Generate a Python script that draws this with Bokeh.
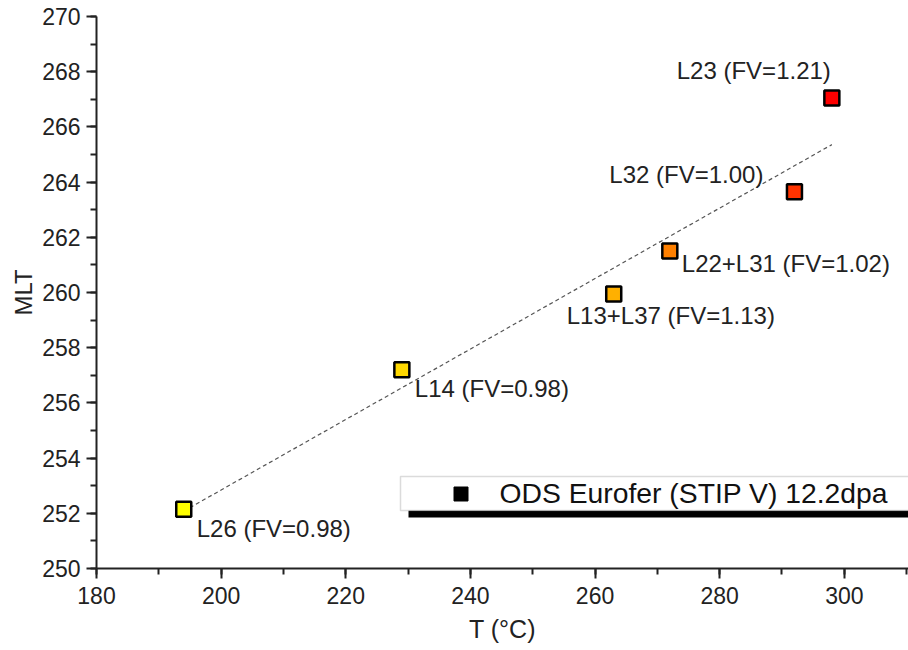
import numpy as np
from bokeh.plotting import figure
from bokeh.layouts import row
from bokeh.models import (Range1d, ColumnDataSource, LabelSet, Legend, LegendItem,
                          BoxAnnotation, SingleIntervalTicker, Spacer)
from bokeh.core.properties import value
from bokeh.embed import file_html
from bokeh.resources import INLINE

# ---- data ----
names = ["L26 (FV=0.98)", "L14 (FV=0.98)", "L13+L37 (FV=1.13)",
         "L22+L31 (FV=1.02)", "L32 (FV=1.00)", "L23 (FV=1.21)"]
T = [194, 229, 263, 272, 292, 298]
MLT = [252.15, 257.2, 259.95, 261.5, 263.65, 267.05]
colors = ["#FFFF00", "#FFD800", "#FFB000", "#FF8000", "#FF3300", "#FF0000"]
series_name = "ODS Eurofer (STIP V) 12.2dpa"

# label placement (screen px, style only)
lab_dx = [13, 13, -47, 12, -31, -1]
lab_dy = [-28, -27, -30, -21, 9, 19]
lab_align = ["left", "left", "left", "left", "right", "right"]

FONT = "Liberation Sans"
TXT = "#222222"

p = figure(frame_width=812, frame_height=552, output_backend="svg",
           toolbar_location=None,
           x_range=Range1d(180, 310.3), y_range=Range1d(250, 270),
           min_border_left=0, min_border_top=16, min_border_right=0,
           min_border_bottom=70)
p.outline_line_color = None
p.xgrid.visible = False
p.ygrid.visible = False
p.background_fill_color = "white"
p.border_fill_color = "white"

p.xaxis[0].ticker = SingleIntervalTicker(interval=20, num_minor_ticks=2)
p.yaxis[0].ticker = SingleIntervalTicker(interval=2, num_minor_ticks=2)

for ax in (p.xaxis[0], p.yaxis[0]):
    ax.axis_line_width = 2
    ax.axis_line_color = TXT
    ax.major_tick_line_width = 2
    ax.minor_tick_line_width = 2
    ax.major_tick_line_color = TXT
    ax.minor_tick_line_color = TXT
    ax.major_tick_out = 10
    ax.major_tick_in = 0
    ax.minor_tick_out = 6
    ax.minor_tick_in = 0
    ax.major_label_text_font = FONT
    ax.major_label_text_font_size = "23px"
    ax.major_label_text_color = TXT
    ax.axis_label_text_font = FONT
    ax.axis_label_text_font_style = "normal"
    ax.axis_label_text_color = TXT

p.xaxis.axis_label = "T (°C)"
p.yaxis.axis_label = "MLT"
p.xaxis.axis_label_text_font_size = "25px"
p.yaxis.axis_label_text_font_size = "24px"
p.xaxis.major_label_standoff = 8
p.yaxis.major_label_standoff = 6
p.xaxis.axis_label_standoff = 8
p.yaxis.axis_label_standoff = 2

# linear fit from data
k, b = np.polyfit(T, MLT, 1)
fx = [min(T), max(T)]
fy = [k * v + b for v in fx]
p.line(fx, fy, line_color="#555555", line_width=1.2, line_dash="4 3")

src = ColumnDataSource(dict(x=T, y=MLT, c=colors, name=names,
                            dx=lab_dx, dy=lab_dy, al=lab_align))
p.scatter("x", "y", source=src, marker="square", size=15, fill_color="c",
          line_color="black", line_width=2.5)

labels = LabelSet(x="x", y="y", text="name", source=src, x_offset="dx",
                  y_offset="dy", text_align="al", text_baseline="alphabetic",
                  text_font=value(FONT), text_font_size="24px", text_color=TXT)
p.add_layout(labels)

# legend box with shadow
shadow = BoxAnnotation(left=312, right=900, bottom=51, top=58,
                       left_units="screen", right_units="screen",
                       bottom_units="screen", top_units="screen",
                       fill_color="black", fill_alpha=1, line_color=None)
box = BoxAnnotation(left=304, right=900, bottom=58, top=92,
                    left_units="screen", right_units="screen",
                    bottom_units="screen", top_units="screen",
                    fill_color="white", fill_alpha=1, line_color="#888888",
                    line_width=1.5)
p.add_layout(shadow)
p.add_layout(box)

dummy = p.scatter(x=[float("nan")], y=[float("nan")], marker="square",
                  fill_color="black", line_color="black")
leg = Legend(items=[LegendItem(label=series_name, renderers=[dummy])],
             location=(346.5, 57.5), padding=0, spacing=0, margin=0,
             glyph_width=35, glyph_height=35, label_height=35,
             label_standoff=22, border_line_alpha=0, background_fill_alpha=0,
             label_text_font=FONT, label_text_font_size="28.3px",
             label_text_color="#111111")
p.add_layout(leg, "center")

layout = row(Spacer(width=7, height=10), p)

open("out.html", "w").write(file_html(layout, INLINE))
